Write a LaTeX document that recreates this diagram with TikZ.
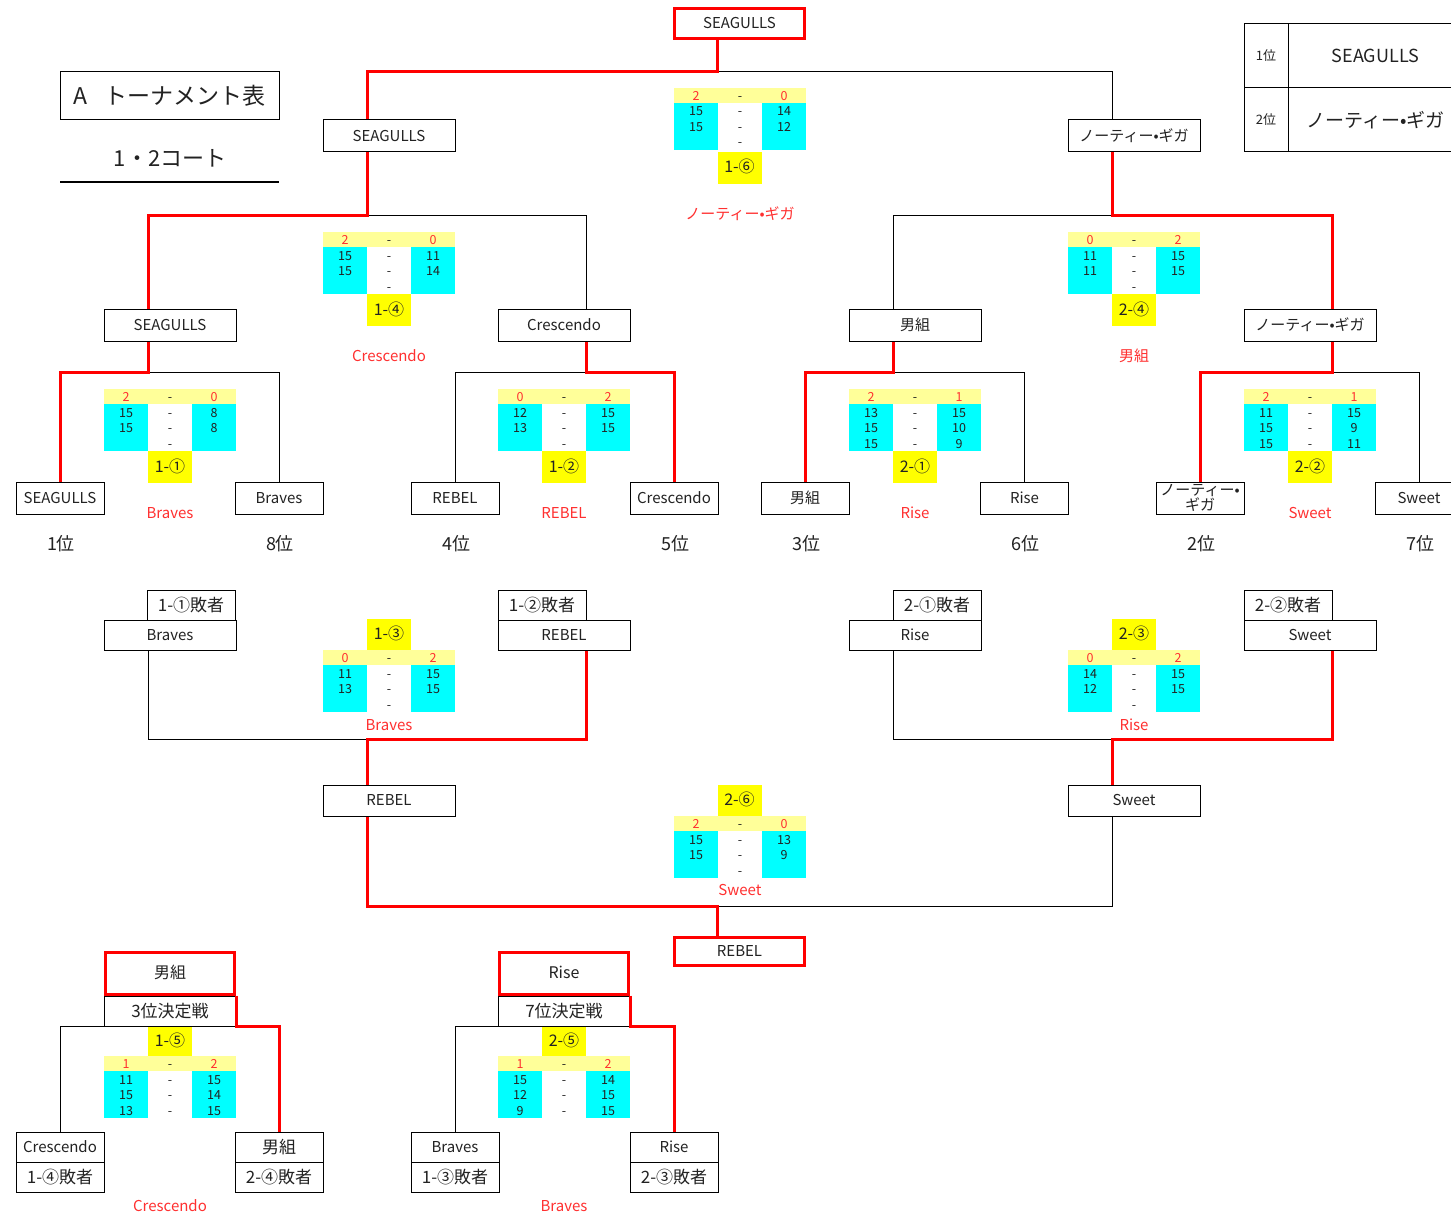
\documentclass[tikz,border=0pt]{standalone}
\usepackage{fontspec}
\setmainfont{Noto Sans CJK JP}
\usetikzlibrary{calc}
\definecolor{cyn}{HTML}{00FFFF}
\definecolor{lylw}{HTML}{FFFF99}
\definecolor{bylw}{HTML}{FFFF00}
\definecolor{rd}{HTML}{FF0000}
\definecolor{rtxt}{HTML}{FF3030}
\definecolor{tx}{HTML}{222222}
\newcommand\fsz[1]{\fontsize{#1}{#1}\selectfont}
\tikzset{
 tmbase/.style={draw=black, line width=1pt, minimum width=132pt, minimum height=32pt, inner sep=0pt, font=\fsz{15}, text=tx},
 tm/.style={tmbase, text height=10.5pt, text depth=0pt},
 tms/.style={tm, minimum width=88pt},
 tmj/.style={tm, font=\fsz{17}, text height=12pt},
 tmsj/.style={tmj, minimum width=88pt},
 tmr/.style={tm, draw=rd, line width=3pt, minimum width=130pt, minimum height=30pt},
 win/.style={draw=rd, line width=3pt},
 lose/.style={draw=black, line width=1pt},
 sc/.style={inner sep=0pt, font=\fsz{12.5}, text=tx, text height=9pt, text depth=0pt},
 scs/.style={sc, text=rtxt},
 badge/.style={fill=bylw, minimum width=44pt, minimum height=32pt, inner sep=0pt, font=\fsz{16}, text=tx, text height=11pt, text depth=1pt},
 rtx/.style={inner sep=0pt, font=\fsz{15}, text=rtxt, text height=10.5pt, text depth=0pt},
 rank/.style={inner sep=0pt, font=\fsz{18}, text=tx},
}
\newcommand\sblock[6]{%
 \fill[lylw] (#2,#3) rectangle ++(132,15);
 \fill[cyn] ({#2},{#3+15}) rectangle ++(44,47);
 \fill[cyn] ({#2+88},{#3+15}) rectangle ++(44,47);
 \node[scs] (#1sl) at ({#2+22},{#3+8}) {#4};
 \node[sc] (#1sm) at ({#2+66},{#3+8}) {-};
 \node[scs] (#1sr) at ({#2+110},{#3+8}) {#5};
 \foreach \l/\r [count=\i] in {#6} {
   \node[sc] (#1l\i) at ({#2+22},{#3+8+\i*15.5}) {\l};
   \node[sc] (#1m\i) at ({#2+66},{#3+8+\i*15.5}) {-};
   \node[sc] (#1r\i) at ({#2+110},{#3+8+\i*15.5}) {\r};
 }%
}
\begin{document}
\begin{tikzpicture}[x=1pt,y=-1pt]
\useasboundingbox[fill=white] (0,0) rectangle (1451,1217);

% ---------- title ----------
\node[draw=black, line width=1pt, minimum width=219pt, minimum height=48pt, inner sep=0pt, font=\fsz{23}, text=tx] (title) at (169.5,96) {A\hspace{0.7em}トーナメント表};
\node[inner sep=0pt, font=\fsz{22}, text=tx] (court) at (170,158) {1・2コート};
\coordinate (ulA) at (60,182);
\coordinate (ulB) at (279,182);
\draw[line width=2.5pt] (ulA) -- (ulB);

% ---------- ranking table ----------
\node[draw=black, line width=1pt, minimum width=44pt, minimum height=64pt, inner sep=0pt, font=\fsz{13}, text=tx] (rk1) at (1266,56) {1位};
\node[draw=black, line width=1pt, minimum width=175pt, minimum height=64pt, inner sep=0pt, font=\fsz{18}, text=tx] (rn1) at (1375.5,56) {SEAGULLS};
\node[draw=black, line width=1pt, minimum width=44pt, minimum height=64pt, inner sep=0pt, font=\fsz{13}, text=tx] (rk2) at (1266,120) {2位};
\node[draw=black, line width=1pt, minimum width=175pt, minimum height=64pt, inner sep=0pt, font=\fsz{19}, text=tx] (rn2) at (1375.5,120) {ノーティー•ギガ};

% ---------- score blocks (upper) ----------
\sblock{b16}{674}{88}{2}{0}{15/14,15/12,/}
\node[badge] (g16) at (739.5,168) {1-⑥};
\node[rtx] (w16) at (740,214) {ノーティー•ギガ};

\sblock{b14}{323}{232}{2}{0}{15/11,15/14,/}
\node[badge] (g14) at (389,310) {1-④};
\node[rtx] (w14) at (389,356) {Crescendo};

\sblock{b24}{1068}{232}{0}{2}{11/15,11/15,/}
\node[badge] (g24) at (1134,310) {2-④};
\node[rtx] (w24) at (1134,356) {男組};

\sblock{b11}{104}{389}{2}{0}{15/8,15/8,/}
\node[badge] (g11) at (170,467) {1-①};
\node[rtx] (w11) at (170,513) {Braves};

\sblock{b12}{498}{389}{0}{2}{12/15,13/15,/}
\node[badge] (g12) at (564,467) {1-②};
\node[rtx] (w12) at (564,513) {REBEL};

\sblock{b21}{849}{389}{2}{1}{13/15,15/10,15/9}
\node[badge] (g21) at (915,467) {2-①};
\node[rtx] (w21) at (915,513) {Rise};

\sblock{b22}{1244}{389}{2}{1}{11/15,15/9,15/11}
\node[badge] (g22) at (1310,467) {2-②};
\node[rtx] (w22) at (1310,513) {Sweet};

% ---------- score blocks (lower) ----------
\sblock{b13}{323}{650}{0}{2}{11/15,13/15,/}
\node[badge, minimum height=31pt] (g13) at (389,634.5) {1-③};
\node[rtx] (w13) at (389,725) {Braves};

\sblock{b23}{1068}{650}{0}{2}{14/15,12/15,/}
\node[badge, minimum height=31pt] (g23) at (1134,634.5) {2-③};
\node[rtx] (w23) at (1134,725) {Rise};

\sblock{b26}{674}{816}{2}{0}{15/13,15/9,/}
\node[badge, minimum height=31pt] (g26) at (739.5,800.5) {2-⑥};
\node[rtx] (w26) at (740,890) {Sweet};

\sblock{b15}{104}{1056}{1}{2}{11/15,15/14,13/15}
\node[badge, minimum height=30pt] (g15) at (170,1041) {1-⑤};
\node[rtx] (w15) at (170,1206) {Crescendo};

\sblock{b25}{498}{1056}{1}{2}{15/14,12/15,9/15}
\node[badge, minimum height=30pt] (g25) at (564,1041) {2-⑤};
\node[rtx] (w25) at (564,1206) {Braves};

% ---------- team boxes (main bracket) ----------
\node[tmr] (fin) at (739.5,23.5) {SEAGULLS};
\node[tm] (sfL) at (389,136) {SEAGULLS};
\node[tm] (sfR) at (1134,136) {ノーティー•ギガ};
\node[tm] (qf1) at (170,325) {SEAGULLS};
\node[tm] (qf2) at (564,325) {Crescendo};
\node[tm] (qf3) at (915,325) {男組};
\node[tm] (qf4) at (1310,325) {ノーティー•ギガ};
\node[tms] (r1) at (60,498) {SEAGULLS};
\node[tms] (r2) at (279,498) {Braves};
\node[tms] (r3) at (455,498) {REBEL};
\node[tms] (r4) at (674,498) {Crescendo};
\node[tms] (r5) at (805,498) {男組};
\node[tms] (r6) at (1024.5,498) {Rise};
\node[tmbase, minimum width=88pt, align=center, font=\fontsize{15}{13}\selectfont] (r7) at (1200,498) {ノーティー•\\ギガ};
\node[tms] (r8) at (1419,498) {Sweet};

% rank labels
\node[rank] (p1) at (61,544) {1位};
\node[rank] (p8) at (280,544) {8位};
\node[rank] (p4) at (456,544) {4位};
\node[rank] (p5) at (675,544) {5位};
\node[rank] (p3l) at (806,544) {3位};
\node[rank] (p6) at (1025,544) {6位};
\node[rank] (p2) at (1201,544) {2位};
\node[rank] (p7l) at (1420,544) {7位};

% ---------- connectors (main bracket) ----------
\coordinate (j0) at (717.5,72);
\draw[lose] (j0) -| ([xshift=-22pt]sfR.north);
\draw[win] ([xshift=-22pt]fin.south) |- (j0) -| ([xshift=-22pt]sfL.north);

\draw[lose] ([xshift=-22pt]sfL.south) ++(0,63) -| ([xshift=22pt]qf2.north);
\draw[win] ([xshift=-22pt]sfL.south) -- ++(0,63) -| ([xshift=-22pt]qf1.north);
\draw[lose] ([xshift=-22pt]sfR.south) ++(0,63) -| ([xshift=-22pt]qf3.north);
\draw[win] ([xshift=-22pt]sfR.south) -- ++(0,63) -| ([xshift=22pt]qf4.north);

\draw[lose] ([xshift=-22pt]qf1.south) ++(0,31) -| (r2.north);
\draw[win] ([xshift=-22pt]qf1.south) -- ++(0,31) -| (r1.north);
\draw[lose] ([xshift=22pt]qf2.south) ++(0,31) -| (r3.north);
\draw[win] ([xshift=22pt]qf2.south) -- ++(0,31) -| (r4.north);
\draw[lose] ([xshift=-22pt]qf3.south) ++(0,31) -| (r6.north);
\draw[win] ([xshift=-22pt]qf3.south) -- ++(0,31) -| (r5.north);
\draw[lose] ([xshift=22pt]qf4.south) ++(0,31) -| (r8.north);
\draw[win] ([xshift=22pt]qf4.south) -- ++(0,31) -| (r7.north);

% ---------- losers' bracket ----------
\node[tmsj, minimum height=30pt] (l1a) at (191,605) {1-①敗者};
\node[tm, minimum height=30pt] (l1) at (170,635) {Braves};
\node[tmsj, minimum height=30pt] (l2a) at (542,605) {1-②敗者};
\node[tm, minimum height=30pt] (l2) at (564,635) {REBEL};
\node[tmsj, minimum height=30pt] (l3a) at (937,605) {2-①敗者};
\node[tm, minimum height=30pt] (l3) at (915,635) {Rise};
\node[tmsj, minimum height=30pt] (l4a) at (1288,605) {2-②敗者};
\node[tm, minimum height=30pt] (l4) at (1310,635) {Sweet};
\node[tm, minimum height=31pt] (ls1) at (389,800.5) {REBEL};
\node[tm, minimum height=31pt] (ls2) at (1134,800.5) {Sweet};
\node[tmr, minimum height=28pt] (lfin) at (739.5,951) {REBEL};

\coordinate (jl1) at ([xshift=-22pt,yshift=45pt]ls1.north);
\coordinate (jl2) at ([xshift=-22pt,yshift=45pt]ls2.north);
\coordinate (jl3) at ([xshift=-22pt,yshift=29pt]lfin.north);
\draw[lose] ([xshift=-22pt]l1.south) |- (jl1);
\draw[win] ([xshift=22pt]l2.south) |- (jl1) -- ([xshift=-22pt]ls1.north);
\draw[lose] ([xshift=-22pt]l3.south) |- (jl2);
\draw[win] ([xshift=22pt]l4.south) |- (jl2) -- ([xshift=-22pt]ls2.north);
\draw[lose] ([xshift=-22pt]ls2.south) |- (jl3);
\draw[win] ([xshift=-22pt]ls1.south) |- (jl3) -- ([xshift=-22pt]lfin.north);

% ---------- 3rd place ----------
\node[tmr, minimum width=129pt, minimum height=42pt, font=\fsz{16}] (p3) at (170,973.5) {男組};
\node[tmj, minimum height=30pt] (p3t) at (170,1011) {3位決定戦};
\node[tms, minimum height=30pt] (c1) at (60,1147) {Crescendo};
\node[tmsj, minimum height=30pt] (c1b) at (60,1177) {1-④敗者};
\node[tmsj, minimum height=30pt] (c2) at (279,1147) {男組};
\node[tmsj, minimum height=30pt] (c2b) at (279,1177) {2-④敗者};
\draw[lose] (c1.north) |- (p3t.south east);
\draw[win] (p3t.north east) -- (p3t.south east) -| (c2.north);

% ---------- 7th place ----------
\node[tmr, minimum width=129pt, minimum height=42pt, font=\fsz{16}] (p7) at (564,973.5) {Rise};
\node[tmj, minimum height=30pt] (p7t) at (564,1011) {7位決定戦};
\node[tms, minimum height=30pt] (d1) at (455,1147) {Braves};
\node[tmsj, minimum height=30pt] (d1b) at (455,1177) {1-③敗者};
\node[tms, minimum height=30pt] (d2) at (674,1147) {Rise};
\node[tmsj, minimum height=30pt] (d2b) at (674,1177) {2-③敗者};
\draw[lose] (d1.north) |- (p7t.south east);
\draw[win] (p7t.north east) -- (p7t.south east) -| (d2.north);
\end{tikzpicture}
\end{document}
